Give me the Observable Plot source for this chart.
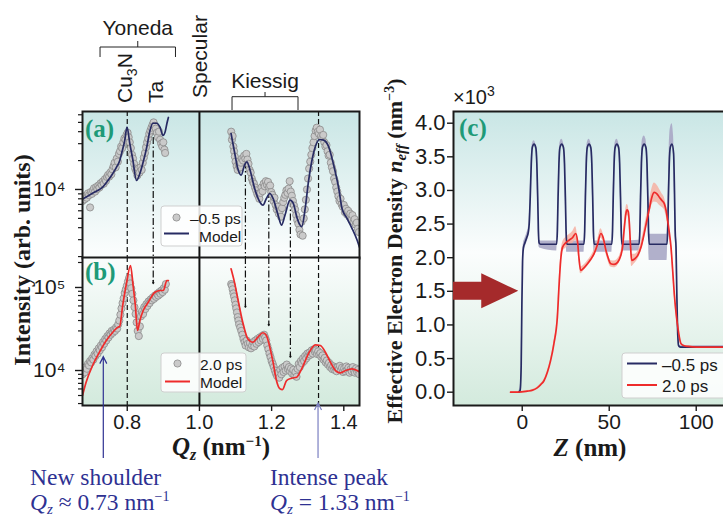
<!DOCTYPE html>
<html><head><meta charset="utf-8">
<script src="https://cdn.jsdelivr.net/npm/d3@7"></script>
<script src="https://cdn.jsdelivr.net/npm/@observablehq/plot@0.6"></script>
<style>
body{margin:0;background:#fff;}
#wrap{position:relative;width:723px;height:516px;overflow:hidden;}
#wrap svg{position:absolute;left:0;top:0;}
</style></head>
<body>
<svg width="0" height="0" style="position:absolute">
<defs>
<linearGradient id="bg" gradientUnits="userSpaceOnUse" x1="0" y1="111" x2="0" y2="405">
<stop offset="0" stop-color="#c9e6e5"/>
<stop offset="0.48" stop-color="#fbfdfd"/>
<stop offset="1" stop-color="#d3eadd"/>
</linearGradient>
</defs></svg>
<div id="wrap"></div>
<script>
// ---------------- DATA ----------------
// Panel (a): -0.5 ps data points [Qz, intensity]
const ptsA_left = [[0.676,7600],[0.679,8300],[0.682,7900],[0.685,8600],[0.688,8200],[0.691,9100],[0.694,8700],[0.697,6500],[0.699,9400],[0.702,9000],[0.705,9800],[0.708,10300],[0.711,9500],[0.714,10600],[0.717,10100],[0.720,11000],[0.723,10500],[0.726,11600],[0.729,11200],[0.732,12100],[0.735,11500],[0.738,12800],[0.741,12300],[0.744,13500],[0.747,14200],[0.750,13600],[0.753,15000],[0.756,14400],[0.759,16200],[0.762,17500],[0.765,19000],[0.768,17000],[0.771,21000],[0.774,19500],[0.777,23500],[0.780,25000],[0.783,28000],[0.786,27000],[0.789,31000],[0.792,34000],[0.795,33000],[0.798,37000],[0.801,39000],[0.804,35000],[0.807,31000],[0.810,27000],[0.813,23000],[0.816,21000],[0.819,18500],[0.822,16500],[0.825,15500],[0.828,14000],[0.831,16500],[0.834,15000],[0.837,17000],[0.840,16000],[0.843,19000],[0.846,21500],[0.849,24000],[0.852,27500],[0.855,31000],[0.858,34000],[0.861,38000],[0.864,41000],[0.867,44000],[0.870,47000],[0.873,50000],[0.876,46000],[0.879,43000],[0.882,39000],[0.885,35000],[0.888,40000],[0.891,33000],[0.894,30000],[0.897,28000],[0.900,31000],[0.903,26000],[0.905,24000]];
const ptsA_right = [[1.088,40000],[1.090,33000],[1.092,36000],[1.094,28000],[1.096,25000],[1.098,22000],[1.100,19500],[1.103,17500],[1.106,16000],[1.109,18000],[1.112,17000],[1.115,19000],[1.118,21000],[1.121,20000],[1.124,22500],[1.127,21000],[1.130,23500],[1.133,20500],[1.136,18500],[1.139,16000],[1.142,15000],[1.145,13000],[1.148,12000],[1.151,11500],[1.154,10500],[1.157,9800],[1.160,9000],[1.163,8600],[1.166,8000],[1.169,9200],[1.172,10500],[1.175,9600],[1.178,11500],[1.181,10800],[1.184,12200],[1.187,11200],[1.190,12000],[1.193,10600],[1.196,11000],[1.199,9400],[1.202,8800],[1.205,7600],[1.208,8200],[1.211,6900],[1.214,6200],[1.217,6600],[1.220,5600],[1.223,6000],[1.226,5200],[1.229,6400],[1.232,7400],[1.235,8200],[1.238,8800],[1.241,9800],[1.244,9200],[1.247,10200],[1.250,12200],[1.253,9500],[1.256,8600],[1.259,7600],[1.262,6800],[1.265,6200],[1.268,5400],[1.271,4800],[1.274,4400],[1.277,3800],[1.280,3400],[1.283,4600],[1.286,3300],[1.289,5000],[1.292,6200],[1.295,7800],[1.298,10000],[1.301,13000],[1.304,16500],[1.307,19500],[1.310,23000],[1.313,27000],[1.316,31000],[1.319,36000],[1.322,41000],[1.325,44000],[1.328,40000],[1.331,38000],[1.334,42000],[1.337,36000],[1.340,34000],[1.343,37000],[1.346,31000],[1.349,28000],[1.352,29000],[1.355,25000],[1.358,22500],[1.361,23000],[1.364,19000],[1.367,17000],[1.370,15500],[1.373,13000],[1.376,12000],[1.379,10500],[1.382,9500],[1.385,8500],[1.388,7600],[1.391,8000],[1.394,7000],[1.397,6600],[1.400,6900],[1.403,5800],[1.406,6300],[1.409,5500],[1.412,6000],[1.415,5200],[1.418,5600],[1.421,4800],[1.424,5400],[1.427,4600],[1.430,4900],[1.433,4300],[1.436,4500],[1.439,3900],[1.442,3600]];
// Panel (a): model
const modelA_left = [[0.676,7940],[0.690,8510],[0.704,9120],[0.718,9770],[0.732,10590],[0.746,12300],[0.760,14690],[0.770,16980],[0.779,19950],[0.786,25120],[0.793,32360],[0.7994,44670],[0.807,30200],[0.815,20890],[0.8257,12420],[0.835,14690],[0.843,18620],[0.854,27540],[0.863,41210],[0.871,48980],[0.882,48980],[0.891,44260],[0.899,36520],[0.905,39810],[0.910,48980],[0.914,56230]];
const modelA_right = [[1.0876,38300],[1.097,24700],[1.1063,16550],[1.1155,14090],[1.125,17910],[1.1315,19430],[1.139,16550],[1.153,10240],[1.167,7450],[1.176,6860],[1.1855,8060],[1.195,9080],[1.204,8060],[1.218,5400],[1.2274,4250],[1.237,5400],[1.251,7740],[1.260,7150],[1.271,4990],[1.2834,4090],[1.293,6340],[1.302,12030],[1.311,19430],[1.321,27860],[1.333,33170],[1.344,32630],[1.358,27860],[1.372,17910],[1.386,10240],[1.395,6340],[1.409,4990],[1.423,3920],[1.437,2960],[1.4435,2500]];
// Panel (b): 2.0 ps data points
const ptsB_left = [[0.676,9000],[0.679,10000],[0.682,9500],[0.685,11000],[0.688,10500],[0.691,12000],[0.694,11500],[0.697,13000],[0.700,12500],[0.703,14000],[0.706,13500],[0.709,15500],[0.712,15000],[0.715,17000],[0.718,16000],[0.721,18500],[0.724,17500],[0.727,20000],[0.730,19000],[0.733,22000],[0.736,21000],[0.739,24000],[0.742,23000],[0.745,26000],[0.748,25000],[0.751,28000],[0.754,27000],[0.757,30000],[0.760,28500],[0.763,31000],[0.766,30000],[0.769,33000],[0.772,32000],[0.775,36000],[0.778,40000],[0.781,47000],[0.784,56000],[0.787,65000],[0.790,74000],[0.793,86000],[0.796,95000],[0.799,105000],[0.802,118000],[0.805,130000],[0.808,112000],[0.811,98000],[0.814,84000],[0.817,70000],[0.820,58000],[0.823,48000],[0.826,38000],[0.829,30000],[0.832,26000],[0.835,34000],[0.838,45000],[0.841,52000],[0.844,48000],[0.847,58000],[0.850,55000],[0.853,63000],[0.856,60000],[0.859,68000],[0.862,65000],[0.865,72000],[0.868,70000],[0.871,76000],[0.874,73000],[0.877,80000],[0.880,77000],[0.883,84000],[0.886,80000],[0.889,88000],[0.892,84000],[0.895,92000],[0.898,88000],[0.901,98000],[0.904,94000],[0.907,110000]];
const ptsB_right = [[1.088,110000],[1.090,105000],[1.092,95000],[1.094,85000],[1.096,78000],[1.098,70000],[1.100,62000],[1.102,56000],[1.104,50000],[1.106,44000],[1.108,40000],[1.110,36000],[1.113,33000],[1.116,30000],[1.119,27000],[1.122,24000],[1.125,22000],[1.128,20000],[1.131,23000],[1.134,21000],[1.137,19000],[1.140,21500],[1.143,18500],[1.146,20000],[1.149,22000],[1.152,19500],[1.155,23000],[1.158,21000],[1.161,24000],[1.164,22000],[1.167,25000],[1.170,23000],[1.173,26000],[1.176,24000],[1.179,27000],[1.182,25000],[1.185,23000],[1.188,20000],[1.191,18000],[1.194,16000],[1.197,14500],[1.200,13000],[1.203,12000],[1.206,11000],[1.209,10000],[1.212,9200],[1.215,8600],[1.218,9400],[1.221,8200],[1.224,10200],[1.227,9000],[1.230,10800],[1.233,9600],[1.236,11200],[1.239,10000],[1.242,11800],[1.245,10400],[1.248,11000],[1.251,9800],[1.254,10600],[1.257,9200],[1.260,10200],[1.263,8800],[1.266,9600],[1.269,8400],[1.272,10500],[1.275,12000],[1.278,11000],[1.281,13000],[1.284,12200],[1.287,14000],[1.290,13000],[1.293,15000],[1.296,14000],[1.299,16000],[1.302,15000],[1.305,16500],[1.308,15500],[1.311,17500],[1.314,16000],[1.317,18000],[1.320,16800],[1.323,17500],[1.326,15800],[1.329,17000],[1.332,15500],[1.335,16200],[1.338,14500],[1.341,15200],[1.344,13500],[1.347,14200],[1.350,12500],[1.353,13200],[1.356,11800],[1.359,12400],[1.362,11000],[1.365,11600],[1.368,10400],[1.371,11200],[1.374,10200],[1.377,10800],[1.380,9800],[1.383,11000],[1.386,10400],[1.389,11400],[1.392,10000],[1.395,10800],[1.398,9600],[1.401,10600],[1.404,9800],[1.407,11200],[1.410,10200],[1.413,10800],[1.416,9400],[1.419,10400],[1.422,9800],[1.425,11000],[1.428,10000],[1.431,9400],[1.434,10600],[1.437,9600],[1.440,10200],[1.443,9000]];
// Panel (b): model
const modelB_left = [[0.676,5000],[0.686,7230],[0.704,11490],[0.723,16620],[0.742,22980],[0.760,28930],[0.774,33240],[0.779,33900],[0.7874,60700],[0.7978,111700],[0.809,184000],[0.8162,105700],[0.8224,60700],[0.8285,30330],[0.835,40000],[0.8442,52800],[0.8582,66500],[0.8769,87800],[0.891,92000],[0.900,92000],[0.9097,121400],[0.914,121400]];
const modelB_right = [[1.0876,168000],[1.097,115900],[1.1063,73100],[1.120,38200],[1.134,24100],[1.148,21900],[1.162,25200],[1.176,28500],[1.1855,26400],[1.195,19100],[1.204,12600],[1.2134,7577],[1.223,6020],[1.230,5900],[1.2414,7577],[1.2554,8080],[1.2694,8300],[1.2834,10490],[1.302,15900],[1.321,20400],[1.335,20000],[1.349,16620],[1.363,12590],[1.377,10000],[1.391,9380],[1.405,10000],[1.423,10490],[1.437,10000],[1.4435,9600]];

// Reference lines (Qz positions)
const cu3nQ = 0.8, taQ = 0.872, specQ = 1.0, peakQ = 1.33, shoulderQ = 0.735;
const kiessigQ = [1.1274, 1.1922, 1.252];
const kiessigStartA = [19300, 9530, 7680];     // line starts on model curve in (a)
const taStartA = 48000;
const arrowTipB = [111700, 57900, 34800, 14460]; // Ta, kiessig 1..3 arrow tips in (b)
const shoulderTipB = 14500;
const yonedaSpan = [0.726, 0.935], kiessigSpan = [1.0917, 1.2745];

// axes
const xTicksB = [0.8, 1.0, 1.2, 1.4], xTickLabelsB = ["0.8", "1.0", "1.2", "1.4"];
const yTicksA = [1e4], yTickLabelsA = ["10⁴"];
const yMinorA = [2000,3000,4000,5000,6000,7000,8000,9000,20000,30000,40000,50000,60000];
const yTicksB = [1e4, 1e5], yTickLabelsB = ["10⁴", "10⁵"];
const yMinorB = [4000,5000,6000,7000,8000,9000,20000,30000,40000,50000,60000,70000,80000,90000,200000];
const yTicksC = [0,0.5,1,1.5,2,2.5,3,3.5,4], yTickLabelsC = ["0.0","0.5","1.0","1.5","2.0","2.5","3.0","3.5","4.0"];
const xTicksC = [0,50,100], xTickLabelsC = ["0","50","100"];

// Panel (c): effective electron density (×10^3 nm^-3)
const navZ = [-2,-1.2,-0.6,-0.2,0.2,0.7,1.5,2.6,3.5,4.0,4.6,5.2,5.8,6.8,7.8,8.4,8.9,9.3,9.7,10.5,
  19.8,20.2,20.6,21.1,21.7,22.7,23.7,24.3,24.8,25.2,25.6,
  35.5,35.9,36.3,36.8,37.4,38.4,39.4,40.0,40.5,40.9,41.3,
  51.5,51.9,52.3,52.8,53.4,54.4,55.4,56.0,56.5,56.9,57.3,
  67.2,67.6,68.0,68.5,69.1,70.1,71.1,71.7,72.2,72.6,73.0,
  83.2,83.6,84.0,84.5,85.1,86.1,87.0,87.5,87.9,88.4,88.9,89.4,89.9,91.0,100,118];
const navV = [0,0.03,0.4,1.3,1.95,2.15,2.22,2.3,2.38,2.5,2.9,3.4,3.64,3.69,3.64,3.4,2.9,2.4,2.22,2.2,
  2.2,2.4,2.9,3.4,3.64,3.69,3.64,3.4,2.9,2.4,2.2,
  2.2,2.4,2.9,3.4,3.64,3.69,3.64,3.4,2.9,2.4,2.2,
  2.2,2.4,2.9,3.4,3.64,3.69,3.64,3.4,2.9,2.4,2.2,
  2.2,2.4,2.9,3.4,3.64,3.69,3.64,3.4,2.9,2.4,2.2,
  2.2,2.4,2.9,3.4,3.64,3.69,3.55,3.0,2.4,2.15,1.4,0.85,0.69,0.67,0.67,0.67];
const navErrHi = [0.02,0.03,0.05,0.05,0.05,0.06,0.06,0.06,0.06,0.06,0.06,0.06,0.05,0.05,0.05,0.06,0.06,0.06,0.05,0.05,
  0.05,0.06,0.07,0.07,0.07,0.07,0.07,0.07,0.07,0.06,0.05,
  0.05,0.06,0.07,0.07,0.07,0.07,0.07,0.07,0.07,0.06,0.05,
  0.05,0.06,0.07,0.07,0.07,0.07,0.07,0.07,0.07,0.06,0.05,
  0.06,0.08,0.1,0.11,0.12,0.12,0.12,0.11,0.1,0.1,0.15,
  0.15,0.15,0.2,0.25,0.28,0.3,0.25,0.2,0.15,0.1,0.05,0.03,0.02,0.02,0.02,0.02];
const navErrLo = [0.02,0.03,0.05,0.05,0.06,0.08,0.08,0.08,0.08,0.06,0.06,0.06,0.05,0.03,0.05,0.06,0.06,0.06,0.06,0.06,
  0.1,0.08,0.06,0.05,0.04,0.03,0.04,0.05,0.06,0.08,0.12,
  0.12,0.08,0.06,0.05,0.04,0.03,0.04,0.05,0.06,0.08,0.12,
  0.12,0.08,0.06,0.05,0.04,0.03,0.04,0.05,0.06,0.08,0.1,
  0.1,0.08,0.06,0.05,0.04,0.03,0.04,0.05,0.08,0.15,0.24,
  0.24,0.15,0.08,0.05,0.04,0.03,0.04,0.06,0.08,0.08,0.05,0.03,0.02,0.02,0.02,0.02];
const redZ = [-6.7,-2,2.9,6,8.6,10.5,12.5,14.5,16.3,18.2,20.2,21.2,22.1,23.1,25,26.9,29,30.7,31.7,32.6,33.6,35.5,37.5,39.5,41.3,43.3,45.2,46.5,48,49,50.9,52.8,54.8,56.5,57.7,58.7,59.6,60.3,60.9,61.6,62.2,62.9,64.5,66.3,68.2,70.1,71.6,73,74.5,75.9,77.4,78.8,80.3,81.7,82.7,83.6,84.5,85.5,86.5,87.4,88.4,89.4,90.3,91.3,93,95.2,100,118];
const redV = [0,0,0.015,0.03,0.065,0.11,0.17,0.3,0.47,0.72,1.12,1.6,1.96,2.15,2.22,2.26,2.3,2.36,2.26,2.0,1.81,1.85,1.91,1.98,2.06,2.2,2.36,2.3,2.12,2.03,1.91,1.9,1.93,2.02,2.16,2.45,2.66,2.71,2.69,2.5,2.2,1.96,1.98,2.03,2.15,2.36,2.55,2.72,2.9,2.97,2.95,2.9,2.85,2.8,2.7,2.55,2.38,2.16,1.8,1.46,1.18,0.97,0.82,0.72,0.69,0.68,0.67,0.67];
const redErr = [0.01,0.01,0.01,0.01,0.01,0.01,0.02,0.02,0.02,0.03,0.04,0.05,0.06,0.07,0.08,0.08,0.09,0.1,0.08,0.06,0.05,0.04,0.04,0.04,0.05,0.06,0.07,0.06,0.05,0.05,0.05,0.05,0.05,0.05,0.06,0.07,0.08,0.08,0.08,0.08,0.08,0.09,0.07,0.06,0.07,0.08,0.09,0.1,0.12,0.14,0.13,0.12,0.1,0.09,0.08,0.07,0.06,0.05,0.04,0.03,0.03,0.02,0.02,0.02,0.01,0.01,0.01,0.01];

// ---------------- STYLE ----------------
const W = 723, H = 516;
const SANS = "'Liberation Sans', Arial, sans-serif";
const SERIF = "'Liberation Serif', 'Times New Roman', serif";
const NAVY = "#272b63", RED = "#ee2b2b", PTFILL = "#cacaca", PTSTROKE = "#8a8a8a";
const DASH = "5,3", DASHDOT = "7,2.5,1.5,2.5";
const common = {width: W, height: H, style: {background: "transparent", fontFamily: SANS, color: "#1a1a1a"}};
const asObj = a => a.map(([q, i]) => ({q, i}));
const lab = (ticks, labels) => d => labels[ticks.indexOf(d)];

const wrap = document.getElementById("wrap");

// ---------------- PANEL (a) ----------------
const plotA = Plot.plot({
  ...common,
  marginLeft: 82, marginRight: W - 359, marginTop: 111, marginBottom: H - 258,
  x: {domain: [0.676, 1.4435], axis: null},
  y: {type: "log", domain: [1910, 64900]},
  marks: [
    Plot.frame({fill: "url(#bg)"}),
    Plot.ruleX([cu3nQ], {stroke: "#111", strokeWidth: 1.2, strokeDasharray: DASH}),
    Plot.ruleX([peakQ], {stroke: "#111", strokeWidth: 1.2, strokeDasharray: DASH}),
    Plot.ruleX([{x: taQ, y1: taStartA, y2: 1910}], {x: "x", y1: "y1", y2: "y2", stroke: "#111", strokeWidth: 1.2, strokeDasharray: DASHDOT}),
    Plot.ruleX(kiessigQ.map((x, k) => ({x, y1: kiessigStartA[k], y2: 1910})), {x: "x", y1: "y1", y2: "y2", stroke: "#111", strokeWidth: 1.2, strokeDasharray: DASHDOT}),
    Plot.ruleX([specQ], {stroke: "#111", strokeWidth: 2}),
    Plot.dot(asObj(ptsA_left), {x: "q", y: "i", r: 3.6, fill: PTFILL, stroke: PTSTROKE, strokeWidth: 0.8, clip: true}),
    Plot.dot(asObj(ptsA_right), {x: "q", y: "i", r: 3.6, fill: PTFILL, stroke: PTSTROKE, strokeWidth: 0.8, clip: true}),
    Plot.line(asObj(modelA_left), {x: "q", y: "i", stroke: NAVY, strokeWidth: 1.7, curve: "monotone-x", clip: true}),
    Plot.line(asObj(modelA_right), {x: "q", y: "i", stroke: NAVY, strokeWidth: 1.7, curve: "monotone-x", clip: true}),
    Plot.axisY(yMinorA, {tickSize: 4, tickFormat: () => "", strokeWidth: 1.2, label: null}),
    Plot.axisY(yTicksA, {tickSize: 7, tickPadding: 10, fontSize: 21, strokeWidth: 1.4, tickFormat: lab(yTicksA, yTickLabelsA), label: null}),
    Plot.frame({stroke: "#1a1a1a", strokeWidth: 2})
  ]
});

// ---------------- PANEL (b) ----------------
const plotB = Plot.plot({
  ...common,
  marginLeft: 82, marginRight: W - 359, marginTop: 257, marginBottom: H - 405,
  x: {domain: [0.676, 1.4435]},
  y: {type: "log", domain: [3790, 229700]},
  marks: [
    Plot.frame({fill: "url(#bg)"}),
    Plot.ruleX([cu3nQ], {stroke: "#111", strokeWidth: 1.2, strokeDasharray: DASH}),
    Plot.ruleX([peakQ], {stroke: "#111", strokeWidth: 1.2, strokeDasharray: DASH}),
    Plot.ruleX([taQ, ...kiessigQ].map((x, k) => ({x, y1: 229700, y2: arrowTipB[k] * 1.04})), {x: "x", y1: "y1", y2: "y2", stroke: "#111", strokeWidth: 1.2, strokeDasharray: DASHDOT}),
    Plot.arrow([taQ, ...kiessigQ].map((x, k) => ({x, y1: arrowTipB[k] * 1.09, y2: arrowTipB[k]})), {x1: "x", x2: "x", y1: "y1", y2: "y2", stroke: "#111", strokeWidth: 1.3, headLength: 7}),
    Plot.ruleX([specQ], {stroke: "#111", strokeWidth: 2}),
    Plot.dot(asObj(ptsB_left), {x: "q", y: "i", r: 3.6, fill: PTFILL, stroke: PTSTROKE, strokeWidth: 0.8, clip: true}),
    Plot.dot(asObj(ptsB_right), {x: "q", y: "i", r: 3.6, fill: PTFILL, stroke: PTSTROKE, strokeWidth: 0.8, clip: true}),
    Plot.line(asObj(modelB_left), {x: "q", y: "i", stroke: RED, strokeWidth: 1.7, curve: "monotone-x", clip: true}),
    Plot.line(asObj(modelB_right), {x: "q", y: "i", stroke: RED, strokeWidth: 1.7, curve: "monotone-x", clip: true}),
    Plot.axisY(yMinorB, {tickSize: 4, tickFormat: () => "", strokeWidth: 1.2, label: null}),
    Plot.axisY(yTicksB, {tickSize: 7, tickPadding: 10, fontSize: 21, strokeWidth: 1.4, tickFormat: lab(yTicksB, yTickLabelsB), label: null}),
    Plot.axisX(xTicksB, {tickSize: 6, tickPadding: 3, fontSize: 20, strokeWidth: 1.4, tickFormat: lab(xTicksB, xTickLabelsB), label: null}),
    Plot.frame({stroke: "#1a1a1a", strokeWidth: 2})
  ]
});

// ---------------- PANEL (c) ----------------
const navTable = navZ.map((z, k) => ({z, v: navV[k], lo: navV[k] - navErrLo[k], hi: navV[k] + navErrHi[k]}));
const redTable = redZ.map((z, k) => ({z, v: redV[k], lo: redV[k] - redErr[k], hi: redV[k] + redErr[k]}));
const plotC = Plot.plot({
  ...common,
  marginLeft: 453, marginRight: -3, marginTop: 111, marginBottom: H - 405,
  x: {domain: [-39.5, 117.4]},
  y: {domain: [-0.198, 4.174]},
  marks: [
    Plot.frame({fill: "url(#bg)"}),
    Plot.areaY(navTable, {x: "z", y1: "lo", y2: "hi", fill: "#a9a7c5", fillOpacity: 0.9, curve: "monotone-x", clip: true}),
    Plot.areaY(redTable, {x: "z", y1: "lo", y2: "hi", fill: "#f6b0a2", fillOpacity: 0.85, curve: "monotone-x", clip: true}),
    Plot.line(navTable, {x: "z", y: "v", stroke: NAVY, strokeWidth: 1.7, curve: "monotone-x", clip: true}),
    Plot.line(redTable, {x: "z", y: "v", stroke: RED, strokeWidth: 1.7, curve: "monotone-x", clip: true}),
    Plot.axisY(yTicksC, {tickSize: 6, tickPadding: 2, fontSize: 22, strokeWidth: 1.4, tickFormat: lab(yTicksC, yTickLabelsC), label: null}),
    Plot.axisX(xTicksC, {tickSize: 6, tickPadding: 3, fontSize: 21, strokeWidth: 1.4, tickFormat: lab(xTicksC, xTickLabelsC), label: null}),
    Plot.frame({stroke: "#1a1a1a", strokeWidth: 2})
  ]
});

wrap.append(plotA, plotB, plotC);

// ---------------- ANNOTATIONS ----------------
const xa = v => plotA.scale("x").apply(v);
const xb = v => plotB.scale("x").apply(v);
const yb = v => plotB.scale("y").apply(v);
const xc = v => plotC.scale("x").apply(v);
const yc = v => plotC.scale("y").apply(v);

let s = "";
// Yoneda
const yL = xa(yonedaSpan[0]), yR = xa(yonedaSpan[1]), yM = (yL + yR) / 2;
s += `<text x="${yM}" y="35" text-anchor="middle" font-family="${SANS}" font-size="21" fill="#1a1a1a">Yoneda</text>`;
s += `<path d="M${yL},57V47H${yR}V57M${yM},47V41" fill="none" stroke="#222" stroke-width="1"/>`;
s += `<text transform="translate(${xa(cu3nQ) + 5.5},103) rotate(-90)" font-family="${SANS}" font-size="21" fill="#1a1a1a">Cu<tspan font-size="14" dy="5">3</tspan><tspan dy="-5">N</tspan></text>`;
s += `<text transform="translate(${xa(taQ) + 10.5},103) rotate(-90)" font-family="${SANS}" font-size="21" fill="#1a1a1a">Ta</text>`;
s += `<text transform="translate(${xa(specQ) + 8.3},98) rotate(-90)" font-family="${SANS}" font-size="21" fill="#1a1a1a">Specular</text>`;
// Kiessig
const kL = xa(kiessigSpan[0]), kR = xa(kiessigSpan[1]), kM = (kL + kR) / 2;
s += `<text x="${kM}" y="88" text-anchor="middle" font-family="${SANS}" font-size="21" fill="#1a1a1a">Kiessig</text>`;
s += `<path d="M${kL},110V96.7H${kR}V110M${kM},96.7V92" fill="none" stroke="#222" stroke-width="1"/>`;
// y label left
s += `<text transform="translate(30,260) rotate(-90)" text-anchor="middle" font-family="${SERIF}" font-weight="bold" font-size="24" fill="#1a1a1a">Intensity (arb. units)</text>`;
// x label left
s += `<text x="221" y="455" text-anchor="middle" font-family="${SERIF}" font-weight="bold" font-size="25" fill="#1a1a1a"><tspan font-style="italic">Q</tspan><tspan font-style="italic" font-size="16" dy="5">z</tspan><tspan dy="-5"> (nm</tspan><tspan font-size="15" dy="-9">−1</tspan><tspan dy="9">)</tspan></text>`;
// panel labels
const TEAL = "#1e9a78";
s += `<text x="85" y="137" font-family="${SERIF}" font-weight="bold" font-size="25" fill="${TEAL}">(a)</text>`;
s += `<text x="85" y="280" font-family="${SERIF}" font-weight="bold" font-size="25" fill="${TEAL}">(b)</text>`;
s += `<text x="459" y="136" font-family="${SERIF}" font-weight="bold" font-size="25" fill="${TEAL}">(c)</text>`;
// legend (a)
s += `<rect x="161" y="206" width="81" height="40" rx="3" fill="#fff" fill-opacity="0.85" stroke="#cfcfcf"/>`;
s += `<circle cx="176.5" cy="217.5" r="3.6" fill="${PTFILL}" stroke="${PTSTROKE}" stroke-width="0.8"/>`;
s += `<text x="190" y="223.5" font-family="${SANS}" font-size="15.5" fill="#1a1a1a">–0.5 ps</text>`;
s += `<line x1="164" x2="189" y1="233.5" y2="233.5" stroke="${NAVY}" stroke-width="2"/>`;
s += `<text x="199" y="242" font-family="${SANS}" font-size="15.5" fill="#1a1a1a">Model</text>`;
// legend (b)
s += `<rect x="161" y="353" width="85" height="39" rx="3" fill="#fff" fill-opacity="0.85" stroke="#cfcfcf"/>`;
s += `<circle cx="177.5" cy="363.5" r="3.6" fill="${PTFILL}" stroke="${PTSTROKE}" stroke-width="0.8"/>`;
s += `<text x="200" y="369.5" font-family="${SANS}" font-size="15.5" fill="#1a1a1a">2.0 ps</text>`;
s += `<line x1="165" x2="190" y1="381.5" y2="381.5" stroke="${RED}" stroke-width="2"/>`;
s += `<text x="200" y="388" font-family="${SANS}" font-size="15.5" fill="#1a1a1a">Model</text>`;
// bottom annotations
const IND = "#2e3192", LIGHT = "#7c80c2";
const sx = xb(shoulderQ), st = yb(shoulderTipB);
s += `<path d="M${sx},458V${st}M${sx - 3.5},${st + 7}L${sx},${st}L${sx + 3.5},${st + 7}" fill="none" stroke="${IND}" stroke-width="1.2"/>`;
const px = xb(peakQ), pt = 403;
s += `<path d="M${px},458V${pt}M${px - 3.5},${pt + 7}L${px},${pt}L${px + 3.5},${pt + 7}" fill="none" stroke="${LIGHT}" stroke-width="1.2"/>`;
s += `<text x="30" y="485" font-family="${SERIF}" font-size="23.5" fill="${IND}">New shoulder</text>`;
s += `<text x="30" y="510" font-family="${SERIF}" font-size="23.5" fill="${IND}"><tspan font-style="italic">Q</tspan><tspan font-style="italic" font-size="15" dy="4">z</tspan><tspan dy="-4"> ≈ 0.73 nm</tspan><tspan font-size="14" dy="-9">−1</tspan></text>`;
s += `<text x="270" y="485" font-family="${SERIF}" font-size="23.5" fill="${IND}">Intense peak</text>`;
s += `<text x="270" y="510" font-family="${SERIF}" font-size="23.5" fill="${IND}"><tspan font-style="italic">Q</tspan><tspan font-style="italic" font-size="15" dy="4">z</tspan><tspan dy="-4"> = 1.33 nm</tspan><tspan font-size="14" dy="-9">−1</tspan></text>`;
// panel (c) texts
s += `<text x="453" y="104" font-family="${SANS}" font-size="20" fill="#1a1a1a">×10<tspan font-size="14" dy="-8">3</tspan></text>`;
s += `<text transform="translate(402,251) rotate(-90)" text-anchor="middle" font-family="${SERIF}" font-weight="bold" font-size="22" fill="#1a1a1a">Effective Electron Density <tspan font-style="italic">n</tspan><tspan font-style="italic" font-size="15" dy="4">eff</tspan><tspan dy="-4"> (nm</tspan><tspan font-size="14" dy="-8">−3</tspan><tspan dy="8">)</tspan></text>`;
s += `<text x="590" y="456" text-anchor="middle" font-family="${SERIF}" font-weight="bold" font-size="25" fill="#1a1a1a"><tspan font-style="italic">Z</tspan> (nm)</text>`;
// big arrow
const ax0 = xc(-39.5), tipX = xc(-2), tipY = yc(1.5), hb = tipX - 37;
s += `<polygon points="${ax0},${tipY - 9} ${hb},${tipY - 9} ${hb},${tipY - 17.5} ${tipX},${tipY} ${hb},${tipY + 17.5} ${hb},${tipY + 9} ${ax0},${tipY + 9}" fill="#a52a2b"/>`;
// legend (c)
s += `<rect x="622" y="353" width="110" height="45" rx="3" fill="#fff" fill-opacity="0.85" stroke="#cfcfcf"/>`;
s += `<line x1="627" x2="657" y1="363.5" y2="363.5" stroke="${NAVY}" stroke-width="2"/>`;
s += `<text x="662" y="370.5" font-family="${SANS}" font-size="17" fill="#1a1a1a">–0.5 ps</text>`;
s += `<line x1="627" x2="657" y1="385" y2="385" stroke="${RED}" stroke-width="2"/>`;
s += `<text x="662" y="392" font-family="${SANS}" font-size="17" fill="#1a1a1a">2.0 ps</text>`;

wrap.insertAdjacentHTML("beforeend", `<svg width="${W}" height="${H}" xmlns="http://www.w3.org/2000/svg">${s}</svg>`);
</script>
</body></html>
